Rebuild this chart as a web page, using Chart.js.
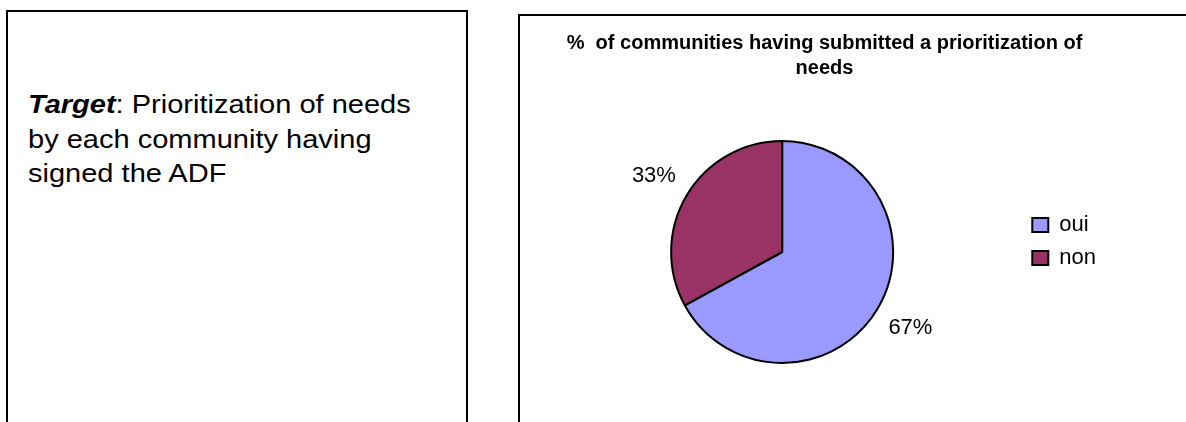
<!DOCTYPE html>
<html>
<head>
<meta charset="utf-8">
<title>Prioritization of needs</title>
<script src="https://cdn.jsdelivr.net/npm/chart.js@4.4.1/dist/chart.umd.min.js"></script>
<style>
	html, body {
		margin: 0;
		padding: 0;
		width: 1186px;
		height: 422px;
		overflow: hidden;
		background: #fff;
		font-family: 'Liberation Sans', Arial, sans-serif;
	}
	.panel {
		position: absolute;
		box-sizing: border-box;
		border: 2px solid #000;
	}
	#target-panel {
		left: 6px;
		top: 10px;
		width: 462px;
		height: 440px;
	}
	#chart-panel {
		left: 518px;
		top: 14px;
		width: 700px;
		height: 440px;
	}
	.target-text {
		position: absolute;
		left: 28px;
		top: 87px;
		font-size: 26px;
		line-height: 34.5px;
		color: #000;
		white-space: nowrap;
		transform: scaleX(1.116);
		transform-origin: left top;
	}
	.chart-box {
		position: absolute;
		left: 520px;
		top: 16px;
		width: 666px;
		height: 406px;
	}
</style>
</head>
<body>
	<div class="panel" id="target-panel"></div>
	<div class="target-text"><strong><em>Target</em></strong>: Prioritization of needs<br>by each community having<br>signed the ADF</div>
	<div class="panel" id="chart-panel"></div>
	<div class="chart-box"><canvas id="needs-chart"></canvas></div>

<script>
//data
const answers = [ 'oui', 'non' ];
const shares = [ 67, 33 ];
const sliceColors = [ '#9999FF', '#993366' ];
const chartTitle = [ '%  of communities having submitted a prioritization of', 'needs' ];

const fontFamily = "'Liberation Sans', Arial, sans-serif";

//percent labels outside each slice
const percentLabels = {
	id: 'percentLabels',
	afterDatasetsDraw(chart) {
		const c = chart.ctx;
		const meta = chart.getDatasetMeta(0);
		const values = chart.data.datasets[0].data;
		const total = values.reduce((a, b) => a + b, 0);
		c.save();
		c.font = '22px ' + fontFamily;
		c.fillStyle = '#000';
		c.textAlign = 'center';
		c.textBaseline = 'middle';
		meta.data.forEach((arc, i) => {
			const p = arc.getProps([ 'x', 'y', 'startAngle', 'endAngle', 'outerRadius' ], true);
			const mid = (p.startAngle + p.endAngle) / 2;
			const r = p.outerRadius + 38;
			const txt = Math.round(values[i] / total * 100) + '%';
			c.fillText(txt, p.x + Math.cos(mid) * r, p.y + Math.sin(mid) * r);
		});
		c.restore();
	}
};

const ctx = document.querySelector('#needs-chart').getContext('2d');
const needsChart = new Chart(ctx, {
	type: 'pie',
	data: {
		labels: answers,
		datasets: [
			{
				data: shares,
				backgroundColor: sliceColors,
				borderColor: '#000',
				borderWidth: 2,
				hoverOffset: 0,
				radius: 111
			}
		]
	},
	options: {
		responsive: true,
		maintainAspectRatio: false,
		animation: false,
		layout: {
			padding: { left: 23, right: 80, top: 0, bottom: 59 }
		},
		plugins: {
			title: {
				display: true,
				text: chartTitle,
				color: '#000',
				font: { family: fontFamily, size: 20, weight: 'bold', lineHeight: 1.25 },
				padding: { top: 14.5, bottom: 60.5 }
			},
			legend: {
				position: 'right',
				fullSize: false,
				align: 'start',
				//empty title only pushes the items down
				title: {
					display: true,
					text: '',
					font: { size: 12, lineHeight: 1 },
					padding: { top: 50, bottom: 0 }
				},
				labels: {
					color: '#000',
					boxWidth: 16,
					boxHeight: 14,
					padding: 11,
					font: { family: fontFamily, size: 22 }
				}
			},
			tooltip: { enabled: false }
		}
	},
	plugins: [ percentLabels ]
});
</script>
</body>
</html>
